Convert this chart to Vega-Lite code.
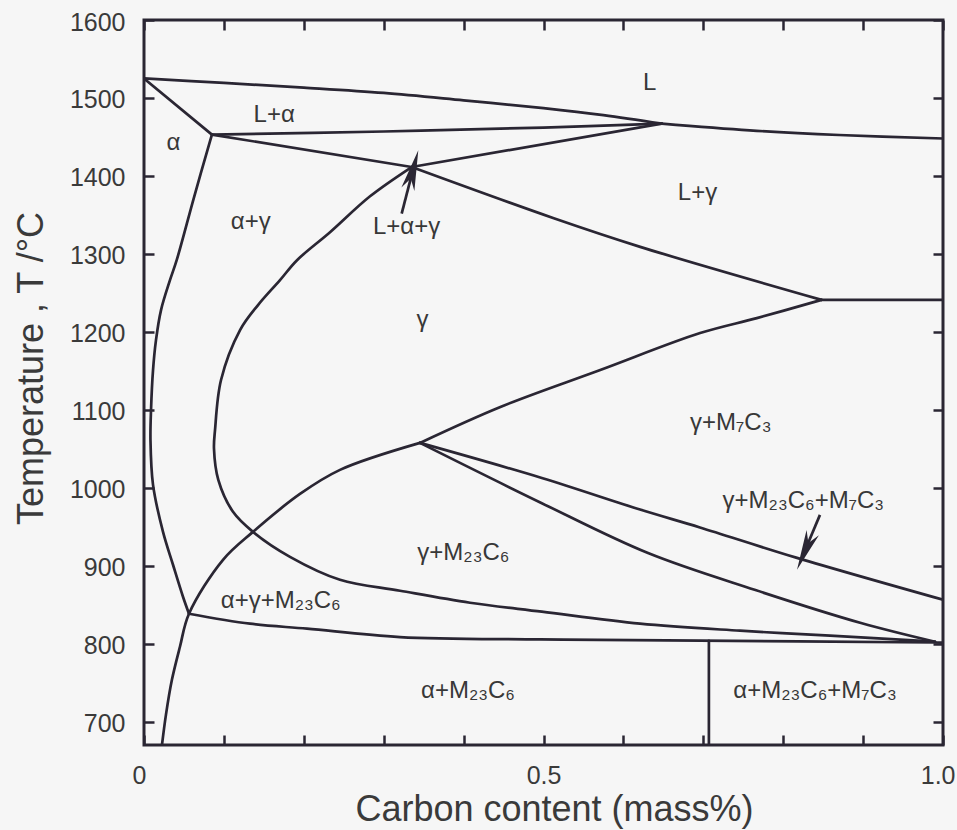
{
  "$schema": "https://vega.github.io/schema/vega-lite/v6.json",
  "width": 799,
  "height": 725,
  "autosize": {"type": "none"},
  "padding": {"left": 144, "top": 20, "right": 14, "bottom": 85},
  "background": "#f6f6f6",
  "config": {
    "view": {"stroke": "#2a2633", "strokeWidth": 3},
    "axis": {"domain": false, "grid": false, "tickColor": "#2a2633", "tickWidth": 2.5, "tickSize": -10,
             "labelFont": "Liberation Sans", "labelColor": "#3a3a3a", "titleFont": "Liberation Sans", "titleColor": "#3a3a3a", "titleFontWeight": "normal"}
  },
  "datasets": {
    "lines": [
      {"c":"A1","o":1,"x":0,"T":1525},{"c":"A1","o":2,"x":0.1,"T":1519.3},{"c":"A1","o":3,"x":0.2,"T":1513.3},{"c":"A1","o":4,"x":0.3,"T":1506.5},{"c":"A1","o":5,"x":0.4,"T":1497},{"c":"A1","o":6,"x":0.5,"T":1487},{"c":"A1","o":7,"x":0.575,"T":1478},{"c":"A1","o":8,"x":0.648,"T":1467},
      {"c":"A2","o":1,"x":0.648,"T":1467},{"c":"A2","o":2,"x":0.758,"T":1458.4},{"c":"A2","o":3,"x":0.87,"T":1452.5},{"c":"A2","o":4,"x":1.0,"T":1448},
      {"c":"B","o":1,"x":0,"T":1525},{"c":"B","o":2,"x":0.085,"T":1453},
      {"c":"C","o":1,"x":0.085,"T":1453},{"c":"C","o":2,"x":0.3,"T":1457},{"c":"C","o":3,"x":0.5,"T":1462},{"c":"C","o":4,"x":0.648,"T":1467},
      {"c":"D","o":1,"x":0.085,"T":1453},{"c":"D","o":2,"x":0.335,"T":1411.4},
      {"c":"E","o":1,"x":0.335,"T":1411.4},{"c":"E","o":2,"x":0.648,"T":1467},
      {"c":"F","o":1,"x":0.335,"T":1411.4},{"c":"F","o":2,"x":0.512,"T":1346},{"c":"F","o":3,"x":0.621,"T":1309},{"c":"F","o":4,"x":0.848,"T":1241},
      {"c":"F2","o":1,"x":0.848,"T":1241},{"c":"F2","o":2,"x":1.0,"T":1241},
      {"c":"G","o":1,"x":0.848,"T":1241},{"c":"G","o":2,"x":0.767,"T":1217.6},{"c":"G","o":3,"x":0.696,"T":1198.4},{"c":"G","o":4,"x":0.571,"T":1151},{"c":"G","o":5,"x":0.446,"T":1103.6},{"c":"G","o":6,"x":0.3454,"T":1057.5},
      {"c":"H","o":1,"x":0.3454,"T":1057.5},{"c":"H","o":2,"x":0.2453,"T":1022.9},{"c":"H","o":3,"x":0.1952,"T":992},{"c":"H","o":4,"x":0.1364,"T":943.4},{"c":"H","o":5,"x":0.0989,"T":907.6},{"c":"H","o":6,"x":0.0563,"T":838.4},{"c":"H","o":7,"x":0.045,"T":796},{"c":"H","o":8,"x":0.035,"T":753.9},{"c":"H","o":9,"x":0.0275,"T":709},{"c":"H","o":10,"x":0.0225,"T":670},
      {"c":"I","o":1,"x":0.085,"T":1453},{"c":"I","o":2,"x":0.0626,"T":1372.6},{"c":"I","o":3,"x":0.0409,"T":1291.9},{"c":"I","o":4,"x":0.0325,"T":1266.3},{"c":"I","o":5,"x":0.0213,"T":1227.9},{"c":"I","o":6,"x":0.015,"T":1189.4},{"c":"I","o":7,"x":0.0113,"T":1151},{"c":"I","o":8,"x":0.0088,"T":1100},{"c":"I","o":9,"x":0.0081,"T":1061.3},{"c":"I","o":10,"x":0.0113,"T":1003.7},{"c":"I","o":11,"x":0.0238,"T":943.4},{"c":"I","o":12,"x":0.0363,"T":901.2},{"c":"I","o":13,"x":0.0488,"T":860.2},{"c":"I","o":14,"x":0.0563,"T":838.4},
      {"c":"J","o":1,"x":0.335,"T":1411.4},{"c":"J","o":2,"x":0.2829,"T":1373.9},{"c":"J","o":3,"x":0.2328,"T":1327.8},{"c":"J","o":4,"x":0.1915,"T":1291.9},{"c":"J","o":5,"x":0.1702,"T":1266.3},{"c":"J","o":6,"x":0.1427,"T":1234.3},{"c":"J","o":7,"x":0.1202,"T":1202.2},{"c":"J","o":8,"x":0.0964,"T":1138.2},{"c":"J","o":9,"x":0.0889,"T":1074.1},{"c":"J","o":10,"x":0.0876,"T":1050},{"c":"J","o":11,"x":0.093,"T":1010.1},{"c":"J","o":12,"x":0.1114,"T":969.1},{"c":"J","o":13,"x":0.1364,"T":943.4},{"c":"J","o":14,"x":0.1827,"T":911.4},{"c":"J","o":15,"x":0.2453,"T":882},{"c":"J","o":16,"x":0.3204,"T":867.9},{"c":"J","o":17,"x":0.408,"T":852.5},{"c":"J","o":18,"x":0.4979,"T":841},{"c":"J","o":19,"x":0.6208,"T":825.6},{"c":"J","o":20,"x":0.7459,"T":816.6},{"c":"J","o":21,"x":0.8586,"T":810.2},{"c":"J","o":22,"x":0.99,"T":802.5},
      {"c":"Mb","o":1,"x":0.3454,"T":1057.5},{"c":"Mb","o":2,"x":0.4979,"T":1012.5},{"c":"Mb","o":3,"x":0.6208,"T":972},{"c":"Mb","o":4,"x":0.6958,"T":949},{"c":"Mb","o":5,"x":0.8173,"T":910},{"c":"Mb","o":6,"x":1.0,"T":856.3},
      {"c":"Mc","o":1,"x":0.3454,"T":1057.5},{"c":"Mc","o":2,"x":0.4979,"T":980.2},{"c":"Mc","o":3,"x":0.6308,"T":916.2},{"c":"Mc","o":4,"x":0.7642,"T":869.1},{"c":"Mc","o":5,"x":0.8974,"T":826.5},{"c":"Mc","o":6,"x":0.99,"T":802.5},
      {"c":"K","o":1,"x":0.0563,"T":838.4},{"c":"K","o":2,"x":0.1327,"T":825.6},{"c":"K","o":3,"x":0.204,"T":819.2},{"c":"K","o":4,"x":0.3204,"T":808.5},{"c":"K","o":5,"x":0.4956,"T":805.5},{"c":"K","o":6,"x":0.6959,"T":803.8},{"c":"K","o":7,"x":0.99,"T":801.5},{"c":"K","o":8,"x":1.0,"T":801.2},
      {"c":"V","o":1,"x":0.707,"T":670},{"c":"V","o":2,"x":0.707,"T":803.7}
    ],
    "labels": [
      {"t":"L","x":0.633,"T":1509.7},
      {"t":"L+α","x":0.163,"T":1469.1},
      {"t":"α","x":0.0367,"T":1432.8},
      {"t":"α+γ","x":0.1336,"T":1332.5},
      {"t":"L+α+γ","x":0.3287,"T":1326},
      {"t":"L+γ","x":0.6927,"T":1368.8},
      {"t":"γ","x":0.3486,"T":1206.4},
      {"t":"γ+M₇C₃","x":0.7344,"T":1074.1},
      {"t":"γ+M₂₃C₆+M₇C₃","x":0.8252,"T":973.8},
      {"t":"γ+M₂₃C₆","x":0.3997,"T":907.6},
      {"t":"α+γ+M₂₃C₆","x":0.1712,"T":845.7},
      {"t":"α+M₂₃C₆","x":0.4055,"T":730.4},
      {"t":"α+M₂₃C₆+M₇C₃","x":0.8398,"T":730.4}
    ],
    "arrows": [
      {"x1":0.3225,"T1":1351.7,"x2":0.3367,"T2":1408,"x":0.3433,"T":1432.8,"dir":15},
      {"x1":0.846,"T1":965.2,"x2":0.8269,"T2":918.5,"x":0.8173,"T":894.8,"dir":203}
    ]
  },
  "layer": [
    {
      "data": {"name": "lines"},
      "mark": {"type": "line", "interpolate": "catmull-rom", "color": "#2a2633", "strokeWidth": 2.7, "strokeJoin": "round", "strokeCap": "round", "clip": true},
      "encoding": {
        "x": {"field": "x", "type": "quantitative", "scale": {"domain": [0, 1], "nice": false, "zero": false},
              "axis": {"orient": "bottom", "values": [0,0.1,0.2,0.3,0.4,0.5,0.6,0.7,0.8,0.9,1.0],
                       "labelExpr": "datum.value == 0 ? '0' : (datum.value == 0.5 ? '0.5' : (datum.value == 1 ? '1.0' : ''))",
                       "labelFlush": true, "labelFlushOffset": 12, "labelOverlap": false, "labelFontSize": 25, "labelPadding": 28,
                       "title": "Carbon content (mass%)", "titleFontSize": 36, "titleX": 410, "titleY": 75, "titleBaseline": "alphabetic", "titleAlign": "center"}},
        "y": {"field": "T", "type": "quantitative", "scale": {"domain": [670, 1600], "nice": false, "zero": false},
              "axis": {"orient": "left", "values": [700,800,900,1000,1100,1200,1300,1400,1500,1600], "format": "d",
                       "labelFontSize": 25, "labelPadding": 29, "labelOffset": 2, "labelOverlap": false,
                       "title": "Temperature , T /°C", "titleFontSize": 36, "titleX": -102, "titleY": 348, "titleAngle": -90, "titleBaseline": "alphabetic", "titleAlign": "center"}},
        "detail": {"field": "c"},
        "order": {"field": "o", "type": "quantitative"}
      }
    },
    {
      "data": {"name": "labels"},
      "mark": {"type": "text", "font": "Liberation Sans", "fontSize": 24, "color": "#383838", "baseline": "alphabetic", "align": "center"},
      "encoding": {
        "x": {"field": "x", "type": "quantitative", "scale": {"domain": [0, 1], "nice": false, "zero": false},
              "axis": {"orient": "top", "values": [0,0.1,0.2,0.3,0.4,0.5,0.6,0.7,0.8,0.9,1.0], "labels": false, "title": null}},
        "y": {"field": "T", "type": "quantitative", "scale": {"domain": [670, 1600], "nice": false, "zero": false},
              "axis": {"orient": "right", "values": [700,800,900,1000,1100,1200,1300,1400,1500,1600], "labels": false, "title": null}},
        "text": {"field": "t"}
      }
    },
    {
      "data": {"name": "arrows"},
      "mark": {"type": "rule", "color": "#2a2633", "strokeWidth": 2.7},
      "encoding": {
        "x": {"field": "x1", "type": "quantitative", "scale": {"domain": [0, 1], "nice": false, "zero": false}, "axis": null},
        "y": {"field": "T1", "type": "quantitative", "scale": {"domain": [670, 1600], "nice": false, "zero": false}, "axis": null},
        "x2": {"field": "x2"},
        "y2": {"field": "T2"}
      }
    },
    {
      "data": {"name": "arrows"},
      "mark": {"type": "point", "shape": "M0,0 L0.3,1.8 L0,1.3 L-0.3,1.8 Z", "size": 2000, "filled": true, "color": "#2a2633", "opacity": 1, "strokeWidth": 0},
      "encoding": {
        "x": {"field": "x", "type": "quantitative", "scale": {"domain": [0, 1], "nice": false, "zero": false}, "axis": null},
        "y": {"field": "T", "type": "quantitative", "scale": {"domain": [670, 1600], "nice": false, "zero": false}, "axis": null},
        "angle": {"field": "dir", "type": "quantitative", "scale": null}
      }
    }
  ],
  "resolve": {"axis": {"x": "independent", "y": "independent"}}
}
